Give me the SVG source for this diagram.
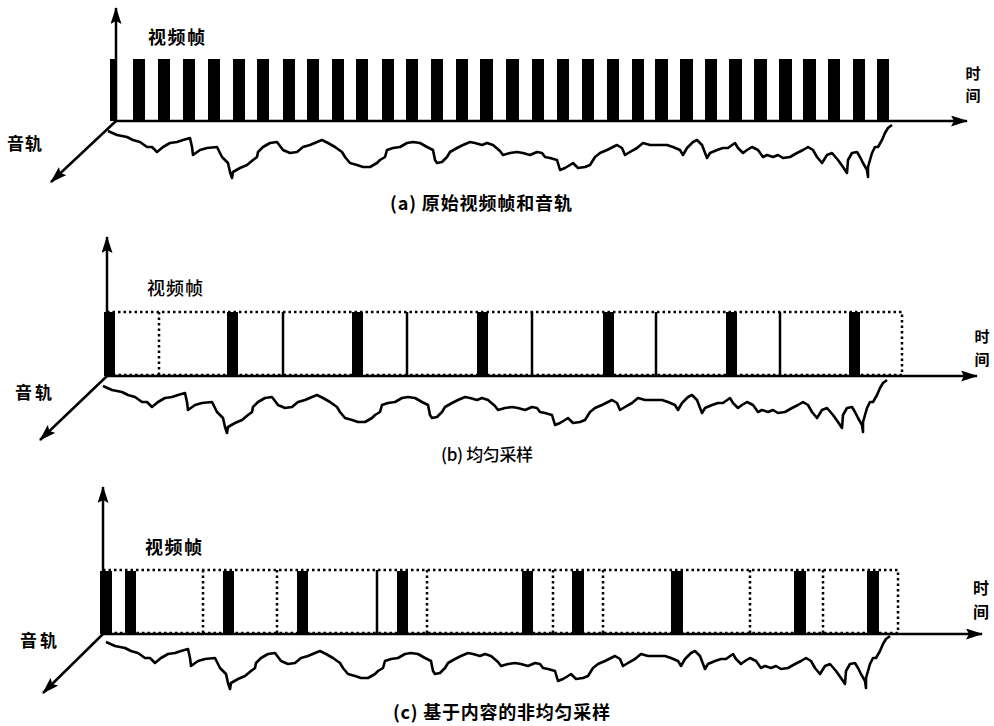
<svg xmlns="http://www.w3.org/2000/svg" xmlns:xlink="http://www.w3.org/1999/xlink" width="994" height="726" viewBox="0 0 994 726">
  <style>
    .axis { stroke: #000; stroke-width: 2.5; fill: none; }
    .wave { stroke: #000; stroke-width: 2.6; fill: none; stroke-linejoin: round; }
    .bar { fill: #000; }
    .thin { stroke: #000; stroke-width: 2.5; }
    .dot { stroke: #000; stroke-width: 2.5; stroke-dasharray: 2.5 3; fill: none; }
    .lbl { font-family: "Noto Sans CJK SC", "Noto Sans", sans-serif; fill: #000; }
    .b { font-weight: 700; }
    .r { font-weight: 500; }
  </style>
  <defs>
    <marker id="ah" viewBox="0 0 17 11" refX="16" refY="5.5" markerWidth="17" markerHeight="11" markerUnits="userSpaceOnUse" orient="auto">
      <path d="M0,0 L17,5.5 L0,11 L3,5.5 z" fill="#000"/>
    </marker>
    <!-- audio waveform, drawn in the coordinates of the top panel -->
    <path id="audio" class="wave" d="M108,131 L117,135 L127,137 L133,140 L140,142 L147,147 L152,147 L157,152 L163,147 L170,143 L177,142 L183,140 L190,138 L192,147 L193,155 L200,150 L207,148 L217,147 L222,157 L228,163 L230,172 L232,178 L233,172 L240,168 L247,165 L253,160 L257,157 L258,152 L263,147 L270,143 L277,142 L283,150 L290,153 L297,152 L303,147 L310,145 L317,142 L322,140 L328,143 L335,147 L342,152 L345,157 L350,163 L357,165 L363,167 L370,167 L377,163 L380,160 L385,157 L387,150 L393,148 L400,147 L407,143 L413,142 L420,143 L427,147 L433,150 L435,160 L437,163 L442,162 L447,157 L450,152 L457,148 L463,145 L470,142 L475,143 L482,145 L487,143 L493,145 L500,151 L503,155 L510,153 L517,152 L523,153 L530,155 L537,152 L542,153 L545,157 L550,158 L557,160 L560,170 L565,168 L570,165 L573,163 L578,168 L585,167 L590,165 L595,157 L600,153 L607,150 L613,147 L617,145 L622,148 L625,155 L630,152 L637,148 L643,143 L650,145 L657,145 L667,145 L673,147 L680,150 L683,155 L687,148 L693,142 L697,140 L702,145 L707,158 L710,153 L717,150 L723,148 L728,148 L735,143 L738,148 L743,153 L747,150 L752,147 L758,150 L763,157 L767,155 L773,157 L778,155 L783,158 L790,157 L797,153 L803,150 L808,147 L813,150 L817,157 L822,163 L827,155 L832,153 L838,160 L843,167 L847,173 L848,160 L852,153 L857,152 L860,157 L863,163 L867,170 L868,177 L868,167 L872,153 L875,147 L878,147 L882,140 L885,133 L888,128 L892,125"/>
  </defs>

  <!-- (a) original video frames and audio track -->
  <g id="panel-a">
    <g id="frames-a">
      <rect class="bar" x="110" y="59" width="7" height="62"/>
      <rect class="bar" x="133" y="59" width="12" height="62"/>
      <rect class="bar" x="158" y="59" width="12" height="62"/>
      <rect class="bar" x="183" y="59" width="12" height="62"/>
      <rect class="bar" x="208" y="59" width="12" height="62"/>
      <rect class="bar" x="233" y="59" width="12" height="62"/>
      <rect class="bar" x="257" y="59" width="12" height="62"/>
      <rect class="bar" x="283" y="59" width="12" height="62"/>
      <rect class="bar" x="307" y="59" width="12" height="62"/>
      <rect class="bar" x="332" y="59" width="12" height="62"/>
      <rect class="bar" x="356" y="59" width="12" height="62"/>
      <rect class="bar" x="382" y="59" width="12" height="62"/>
      <rect class="bar" x="406" y="59" width="12" height="62"/>
      <rect class="bar" x="431" y="59" width="12" height="62"/>
      <rect class="bar" x="456" y="59" width="12" height="62"/>
      <rect class="bar" x="480" y="59" width="13" height="62"/>
      <rect class="bar" x="506" y="59" width="13" height="62"/>
      <rect class="bar" x="532" y="59" width="12" height="62"/>
      <rect class="bar" x="557" y="59" width="12" height="62"/>
      <rect class="bar" x="582" y="59" width="12" height="62"/>
      <rect class="bar" x="607" y="59" width="12" height="62"/>
      <rect class="bar" x="632" y="59" width="12" height="62"/>
      <rect class="bar" x="655" y="59" width="13" height="62"/>
      <rect class="bar" x="680" y="59" width="13" height="62"/>
      <rect class="bar" x="705" y="59" width="12" height="62"/>
      <rect class="bar" x="729" y="59" width="13" height="62"/>
      <rect class="bar" x="754" y="59" width="13" height="62"/>
      <rect class="bar" x="779" y="59" width="13" height="62"/>
      <rect class="bar" x="803" y="59" width="13" height="62"/>
      <rect class="bar" x="828" y="59" width="12" height="62"/>
      <rect class="bar" x="853" y="59" width="12" height="62"/>
      <rect class="bar" x="877" y="59" width="12" height="62"/>
    </g>
    <use id="audio-a" xlink:href="#audio" href="#audio"/>
    <g id="axes-a">
      <line class="axis" x1="116" y1="121" x2="116" y2="8" marker-end="url(#ah)"/>
      <line class="axis" x1="116" y1="121" x2="967" y2="121" marker-end="url(#ah)"/>
      <line class="axis" x1="116" y1="121" x2="51" y2="182" marker-end="url(#ah)"/>
    </g>
    <g id="labels-a">
      <text class="lbl b" x="148" y="43.5" font-size="18" textLength="57">视频帧</text>
      <text class="lbl b" x="7" y="150" font-size="17" textLength="35">音轨</text>
      <text class="lbl b" x="973" y="79" font-size="15" text-anchor="middle">时</text>
      <text class="lbl b" x="973" y="101" font-size="15" text-anchor="middle">间</text>
      <text class="lbl b" x="390" y="210" font-size="18" textLength="182">(a) 原始视频帧和音轨</text>
    </g>
  </g>

  <!-- (b) uniform sampling -->
  <g id="panel-b">
    <g id="frames-b">
      <rect class="dot" x="107" y="312" width="795" height="63"/>
      <line class="dot" x1="159" y1="312" x2="159" y2="375"/>
      <line class="thin" x1="283" y1="312" x2="283" y2="376"/>
      <line class="thin" x1="407" y1="312" x2="407" y2="376"/>
      <line class="thin" x1="532" y1="312" x2="532" y2="376"/>
      <line class="thin" x1="656" y1="312" x2="656" y2="376"/>
      <line class="thin" x1="780" y1="312" x2="780" y2="376"/>
      <rect class="bar" x="104" y="312" width="11" height="64"/>
      <rect class="bar" x="227" y="312" width="11" height="64"/>
      <rect class="bar" x="352" y="312" width="11" height="64"/>
      <rect class="bar" x="477" y="312" width="11" height="64"/>
      <rect class="bar" x="603" y="312" width="11" height="64"/>
      <rect class="bar" x="726" y="312" width="11" height="64"/>
      <rect class="bar" x="849" y="312" width="11" height="64"/>
    </g>
    <use id="audio-b" xlink:href="#audio" href="#audio" transform="translate(-5,255)"/>
    <g id="axes-b">
      <line class="axis" x1="107" y1="376" x2="107" y2="237" marker-end="url(#ah)"/>
      <line class="axis" x1="107" y1="376" x2="977" y2="376" marker-end="url(#ah)"/>
      <line class="axis" x1="107" y1="376" x2="40" y2="440" marker-end="url(#ah)"/>
    </g>
    <g id="labels-b">
      <text class="lbl r" x="147" y="295" font-size="18" textLength="56">视频帧</text>
      <text class="lbl b" x="15" y="398.5" font-size="17" textLength="37">音轨</text>
      <text class="lbl b" x="982" y="342" font-size="15" text-anchor="middle">时</text>
      <text class="lbl b" x="982" y="365" font-size="15" text-anchor="middle">间</text>
      <text class="lbl r" x="441" y="460.5" font-size="17" textLength="92">(b) 均匀采样</text>
    </g>
  </g>

  <!-- (c) content-based non-uniform sampling -->
  <g id="panel-c">
    <g id="frames-c">
      <rect class="dot" x="103" y="570" width="795" height="63"/>
      <line class="dot" x1="203" y1="570" x2="203" y2="633"/>
      <line class="dot" x1="277" y1="570" x2="277" y2="633"/>
      <line class="thin" x1="377" y1="570" x2="377" y2="634"/>
      <line class="dot" x1="427" y1="570" x2="427" y2="633"/>
      <line class="dot" x1="553" y1="570" x2="553" y2="633"/>
      <line class="dot" x1="603" y1="570" x2="603" y2="633"/>
      <line class="dot" x1="750" y1="570" x2="750" y2="633"/>
      <line class="dot" x1="823" y1="570" x2="823" y2="633"/>
      <rect class="bar" x="100" y="571" width="12" height="63"/>
      <rect class="bar" x="125" y="571" width="11" height="63"/>
      <rect class="bar" x="223" y="571" width="11" height="63"/>
      <rect class="bar" x="297" y="571" width="11" height="63"/>
      <rect class="bar" x="397" y="571" width="11" height="63"/>
      <rect class="bar" x="522" y="571" width="11" height="63"/>
      <rect class="bar" x="572" y="571" width="12" height="63"/>
      <rect class="bar" x="671" y="571" width="12" height="63"/>
      <rect class="bar" x="794" y="571" width="12" height="63"/>
      <rect class="bar" x="867" y="571" width="12" height="63"/>
    </g>
    <use id="audio-c" xlink:href="#audio" href="#audio" transform="translate(-2,511)"/>
    <g id="axes-c">
      <line class="axis" x1="103" y1="634" x2="103" y2="487" marker-end="url(#ah)"/>
      <line class="axis" x1="103" y1="634" x2="982" y2="634" marker-end="url(#ah)"/>
      <line class="axis" x1="103" y1="634" x2="43" y2="693" marker-end="url(#ah)"/>
    </g>
    <g id="labels-c">
      <text class="lbl b" x="145" y="554" font-size="18" textLength="57">视频帧</text>
      <text class="lbl b" x="20" y="646.5" font-size="17" textLength="37">音轨</text>
      <text class="lbl b" x="981" y="594" font-size="16" text-anchor="middle">时</text>
      <text class="lbl b" x="981" y="618" font-size="16" text-anchor="middle">间</text>
      <text class="lbl b" x="393" y="719" font-size="18" textLength="217">(c) 基于内容的非均匀采样</text>
    </g>
  </g>
</svg>
